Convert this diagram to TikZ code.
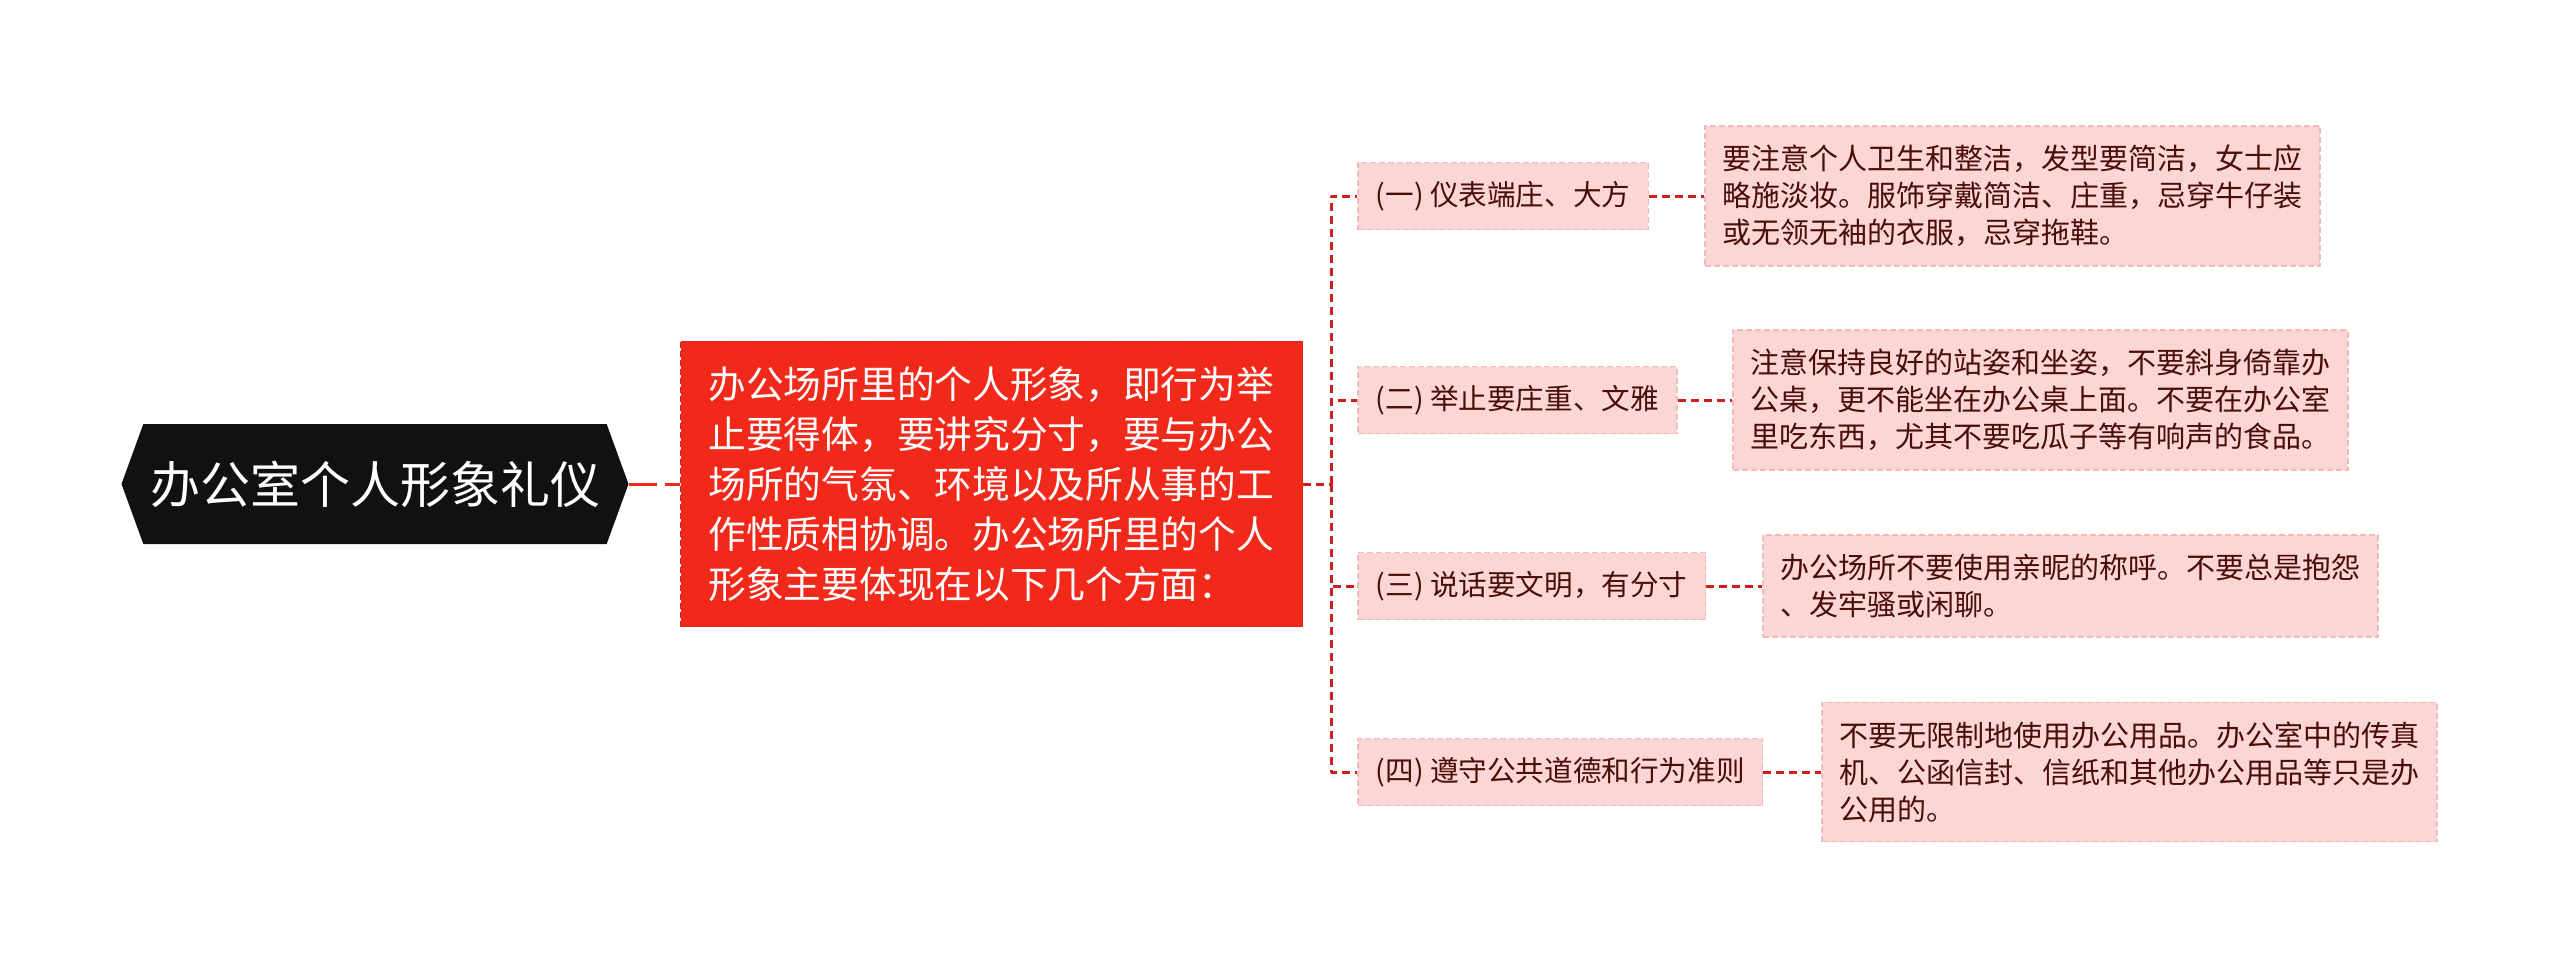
\documentclass[tikz,border=0pt]{standalone}
\usepackage{fontspec}
\newfontfamily\cjk{Noto Sans CJK SC}
\usetikzlibrary{shapes.symbols}

\definecolor{rootblack}{HTML}{111111}
\definecolor{mainred}{HTML}{F1291A}
\definecolor{mainedge}{HTML}{D8241A}
\definecolor{subpink}{HTML}{FCD6D4}
\definecolor{subedge}{HTML}{F3BBB7}
\definecolor{darktext}{HTML}{4A0E08}
\definecolor{linkred}{HTML}{CF1F1C}

\begin{document}
\begin{tikzpicture}[x=0.5pt, y=-0.5pt, font=\cjk, line join=round,
		link/.style={draw=linkred, line width=1.5pt, dash pattern=on 4pt off 2.5pt},
		root/.style={signal, signal to=west and east, signal pointer angle=140,
			fill=rootblack, text=white, minimum width=252pt, minimum height=60pt,
			font=\cjk\fontsize{25pt}{30pt}\selectfont},
		topic/.style={rectangle, fill=mainred, draw=mainedge, line width=0.75pt,
			dash pattern=on 3pt off 1.5pt, text=white, align=left, text width=283pt,
			inner xsep=14pt, inner ysep=12.5pt,
			font=\cjk\fontsize{18.85pt}{25pt}\selectfont},
		sub/.style={rectangle, fill=subpink, draw=subedge, line width=0.75pt,
			dash pattern=on 3pt off 1.5pt, text=darktext, anchor=west,
			inner xsep=9pt, minimum height=33.5pt,
			font=\cjk\fontsize{14.3pt}{18pt}\selectfont},
		leaf/.style={sub, align=left, text width=290pt, inner xsep=8.75pt,
			inner ysep=9.5pt, minimum height=0pt,
			font=\cjk\fontsize{14.5pt}{18.5pt}\selectfont}]
	\useasboundingbox (0,0) rectangle (2560,969);
	
	\node[root] (R) at (375,484) {办公室个人形象礼仪};
	\node[topic] (M) at (991.5,484) {办公场所里的个人形象，即行为举\\止要得体，要讲究分寸，要与办公\\场所的气氛、环境以及所从事的工\\作性质相协调。办公场所里的个人\\形象主要体现在以下几个方面：};
	\coordinate (T) at (1331,484);
	
	\node[sub] (B1) at (1357,196) {(一) 仪表端庄、大方};
	\node[sub] (B2) at (1357,400) {(二) 举止要庄重、文雅};
	\node[sub] (B3) at (1357,586) {(三) 说话要文明，有分寸};
	\node[sub] (B4) at (1357,772) {(四) 遵守公共道德和行为准则};
	
	\node[leaf] (L1) at (1704,196) {要注意个人卫生和整洁，发型要简洁，女士应\\略施淡妆。服饰穿戴简洁、庄重，忌穿牛仔装\\或无领无袖的衣服，忌穿拖鞋。};
	\node[leaf] (L2) at (1732,400) {注意保持良好的站姿和坐姿，不要斜身倚靠办\\公桌，更不能坐在办公桌上面。不要在办公室\\里吃东西，尤其不要吃瓜子等有响声的食品。};
	\node[leaf] (L3) at (1762,586) {办公场所不要使用亲昵的称呼。不要总是抱怨\\、发牢骚或闲聊。};
	\node[leaf] (L4) at (1821,772) {不要无限制地使用办公用品。办公室中的传真\\机、公函信封、信纸和其他办公用品等只是办\\公用的。};
	
	\draw[link, draw=mainred, dash pattern=on 14pt off 4pt] (R.east) -- (M.west);
	\draw[link] (M.east) -- (T);
	\foreach \b in {1,2,3,4} {
		\draw[link] (T) |- (B\b.west);
		\draw[link] (B\b.east) -- (L\b.west);
	}
\end{tikzpicture}
\end{document}
